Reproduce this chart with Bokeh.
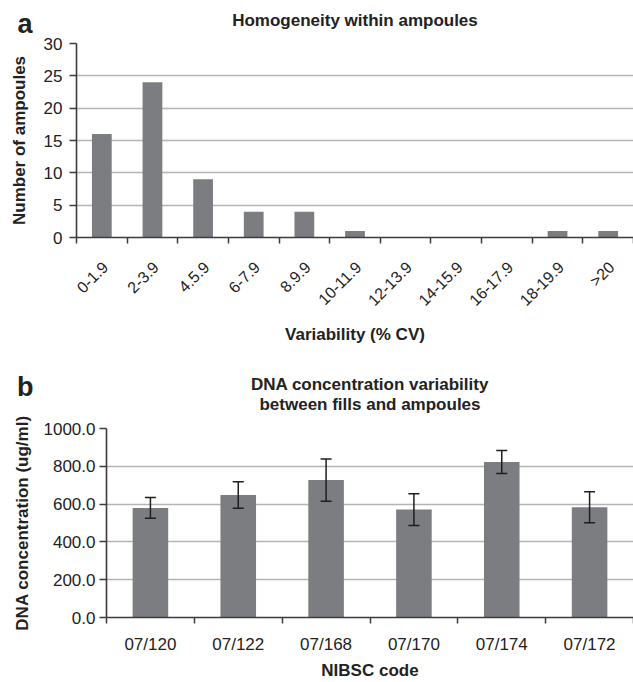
import math
from bokeh.plotting import figure
from bokeh.models import (ColumnDataSource, Range1d, FixedTicker, Whisker,
                          TeeHead, PrintfTickFormatter, LinearAxis)
from bokeh.layouts import column
from bokeh.embed import file_html
from bokeh.resources import INLINE

FONT = "Liberation Sans"

# ---- data: panel a ----
cv_bins = ["0-1.9", "2-3.9", "4.5.9", "6-7.9", "8.9.9", "10-11.9",
           "12-13.9", "14-15.9", "16-17.9", "18-19.9", ">20"]
ampoule_counts = [16, 24, 9, 4, 4, 1, 0, 0, 0, 1, 1]
count_ticks = [0, 5, 10, 15, 20, 25, 30]

# ---- data: panel b ----
nibsc_codes = ["07/120", "07/122", "07/168", "07/170", "07/174", "07/172"]
dna_conc = [580, 648, 727, 571, 823, 583]
dna_err = [55, 70, 112, 84, 61, 82]
conc_ticks = [0, 200, 400, 600, 800, 1000]

BAR = "#7c7d81"
AXIS = "#3c3c3c"
GRID = "#b4b4b4"
TXT = "#222222"


def style_axes(p, ytick_size, xtick_size):
    p.xgrid.visible = False
    p.ygrid.grid_line_color = GRID
    p.ygrid.grid_line_width = 1.3
    p.outline_line_color = None
    for ax in (p.xaxis[0], p.yaxis[0]):
        ax.axis_line_color = AXIS
        ax.axis_line_width = 1.6
        ax.major_tick_line_color = AXIS
        ax.major_tick_line_width = 1.5
        ax.minor_tick_line_color = AXIS
        ax.minor_tick_line_width = 1.5
        ax.major_label_text_font = FONT
        ax.major_label_text_color = TXT
        ax.axis_label_text_font = FONT
        ax.axis_label_text_font_style = "bold"
        ax.axis_label_text_font_size = "17px"
        ax.axis_label_text_color = TXT
    p.yaxis[0].major_label_text_font_size = ytick_size
    p.xaxis[0].major_label_text_font_size = xtick_size
    p.yaxis[0].major_tick_out = 7
    p.yaxis[0].major_tick_in = 0
    p.yaxis[0].minor_tick_line_color = None
    p.xaxis[0].major_tick_out = 0
    p.xaxis[0].major_tick_in = 0
    p.xaxis[0].major_tick_line_color = None
    p.xaxis[0].minor_tick_out = 6
    p.xaxis[0].minor_tick_in = 0


def bare_axis(p, side):
    ax = LinearAxis(ticker=FixedTicker(ticks=[]))
    ax.axis_line_color = None
    ax.major_tick_line_color = None
    ax.minor_tick_line_color = None
    ax.major_tick_out = 0
    ax.major_tick_in = 0
    ax.minor_tick_out = 0
    ax.minor_tick_in = 0
    ax.major_label_standoff = 0
    ax.axis_label_text_font = FONT
    ax.axis_label_text_font_style = "bold"
    ax.axis_label_text_color = TXT
    ax.major_label_text_font = FONT
    ax.major_label_text_font_style = "bold"
    ax.major_label_text_color = TXT
    p.add_layout(ax, side)
    return ax


def title_axis(p, text, standoff):
    """Axis without ticks above the frame, carrying a title as its label."""
    ax = bare_axis(p, "above")
    ax.axis_label = text
    ax.axis_label_standoff = standoff
    ax.axis_label_text_font_size = "17px"
    return ax


def letter_axis(p, letter, y, n_lines, line_height, standoff):
    """Left axis whose single tick label (at the frame top) is the panel letter."""
    ax = bare_axis(p, "left")
    ax.ticker = FixedTicker(ticks=[y])
    ax.major_label_overrides = {y: "\n".join([letter] + ["\u00a0"] * (n_lines - 1))}
    ax.major_label_text_font_size = "27px"
    ax.major_label_text_line_height = line_height
    ax.major_label_text_align = "left"
    ax.major_label_standoff = standoff
    return ax


def no_frame_align(p):
    if "frame_align" in type(p).properties():
        p.frame_align = False


# ---------------- panel a ----------------
n1 = len(cv_bins)
centers1 = [i + 0.5 for i in range(n1)]
src1 = ColumnDataSource(dict(x=centers1, top=ampoule_counts))

p1 = figure(width=633, height=346, output_backend="svg", toolbar_location=None,
            title=None, x_range=Range1d(0, n1), y_range=Range1d(0, 30),
            min_border_left=76, min_border_right=0, min_border_top=43,
            min_border_bottom=107)
no_frame_align(p1)
p1.vbar(x="x", top="top", width=0.39, source=src1, fill_color=BAR, line_color=None)
style_axes(p1, "17px", "16px")
p1.yaxis[0].ticker = FixedTicker(ticks=count_ticks)
p1.yaxis[0].axis_label = "Number of ampoules"
p1.yaxis[0].major_label_standoff = 7
p1.yaxis[0].axis_label_standoff = 12
label_pos1 = [c + 0.07 for c in centers1]
p1.xaxis[0].ticker = FixedTicker(ticks=label_pos1, minor_ticks=list(range(n1 + 1)))
p1.xaxis[0].major_label_overrides = {c: lab for c, lab in zip(label_pos1, cv_bins)}
p1.xaxis[0].major_label_orientation = math.pi / 4
p1.xaxis[0].major_label_standoff = 21
p1.xaxis[0].axis_label = "Variability (% CV)"
p1.xaxis[0].axis_label_standoff = 7

title_axis(p1, "Homogeneity within ampoules", 14)
letter_axis(p1, "a", count_ticks[-1], 2, 1.28, -26)

# ---------------- panel b ----------------
n2 = len(nibsc_codes)
centers2 = [i + 0.5 for i in range(n2)]
src2 = ColumnDataSource(dict(
    x=centers2, top=dna_conc,
    upper=[c + e for c, e in zip(dna_conc, dna_err)],
    lower=[c - e for c, e in zip(dna_conc, dna_err)]))

p2 = figure(width=633, height=336, output_backend="svg", toolbar_location=None,
            title=None, x_range=Range1d(0, n2), y_range=Range1d(0, 1000),
            min_border_left=106, min_border_right=0, min_border_top=82,
            min_border_bottom=63)
no_frame_align(p2)
p2.vbar(x="x", top="top", width=0.405, source=src2, fill_color=BAR, line_color=None)
p2.add_layout(Whisker(base="x", upper="upper", lower="lower", source=src2,
                      level="overlay", line_color="#1e1e1e", line_width=1.5,
                      upper_head=TeeHead(size=11, line_color="#1e1e1e", line_width=1.5),
                      lower_head=TeeHead(size=11, line_color="#1e1e1e", line_width=1.5)))
style_axes(p2, "17px", "17px")
p2.yaxis[0].ticker = FixedTicker(ticks=conc_ticks)
p2.yaxis[0].formatter = PrintfTickFormatter(format="%.1f")
p2.yaxis[0].axis_label = "DNA concentration (ug/ml)"
p2.yaxis[0].major_label_standoff = 4
p2.yaxis[0].axis_label_standoff = 9
p2.xaxis[0].ticker = FixedTicker(ticks=centers2, minor_ticks=list(range(n2 + 1)))
p2.xaxis[0].major_label_overrides = {c: lab for c, lab in zip(centers2, nibsc_codes)}
p2.xaxis[0].major_label_standoff = 11
p2.xaxis[0].axis_label = "NIBSC code"
p2.xaxis[0].axis_label_standoff = 4

title_axis(p2, "between fills and ampoules", 15)
title_axis(p2, "DNA concentration variability", -2)
letter_axis(p2, "b", conc_ticks[-1], 3, 1.4, -24)

layout = column(p1, p2)
open("out.html", "w").write(file_html(layout, INLINE))
